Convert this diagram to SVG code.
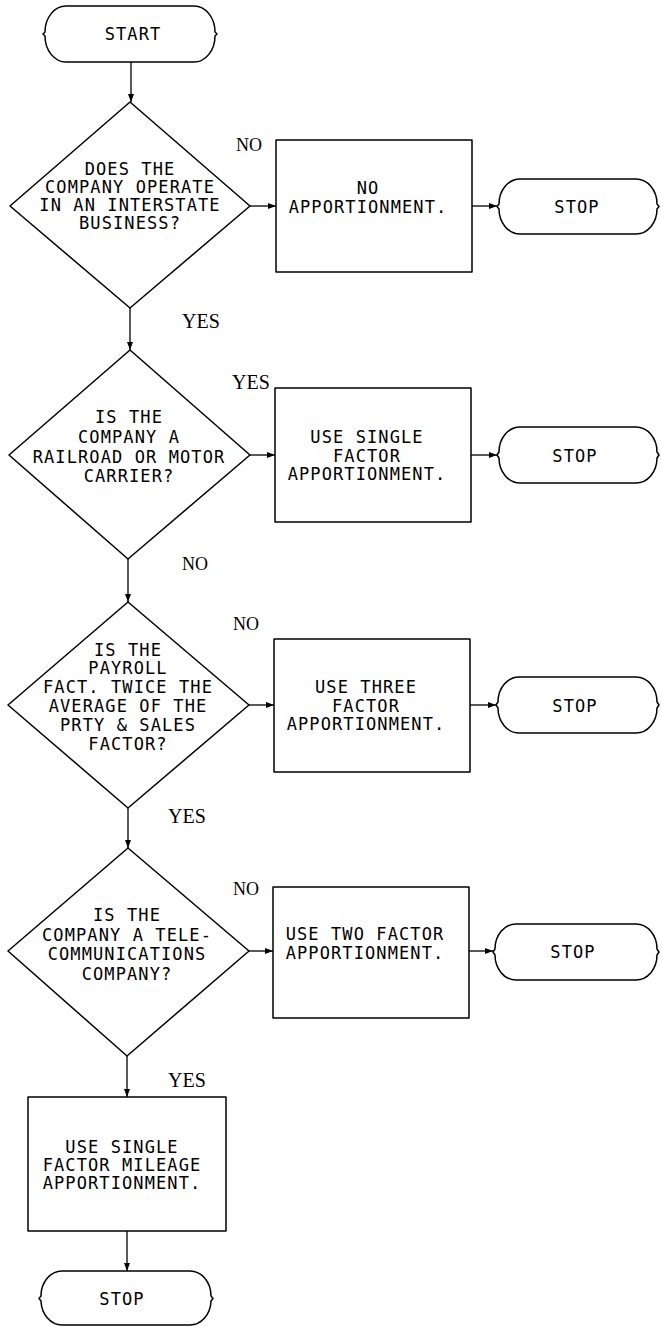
<svg xmlns="http://www.w3.org/2000/svg" width="661" height="1327" viewBox="0 0 661 1327">
<style>
.s{fill:#fff;stroke:#000;stroke-width:1.5;stroke-linejoin:round}
.c{fill:none;stroke:#000;stroke-width:1.3}
.t{font-family:"DejaVu Sans Mono","Liberation Mono",monospace;font-size:17px;letter-spacing:1.1px;text-anchor:middle;fill:#000}
.l{font-family:"Liberation Serif","Times New Roman",serif;font-size:18px;fill:#000}
</style>
<defs>
<marker id="ah" markerUnits="userSpaceOnUse" markerWidth="8" markerHeight="8" viewBox="0 0 8 8" refX="8" refY="4" orient="auto">
<path d="M0,1 L8,4 L0,7 Z" fill="#000"/>
</marker>
</defs>
<rect width="661" height="1327" fill="#fff"/>
<g id="connectors">
<path class="c" marker-end="url(#ah)" d="M131,62 V102"/>
<path class="c" marker-end="url(#ah)" d="M250,206 H276"/>
<path class="c" marker-end="url(#ah)" d="M472,206 H497"/>
<path class="c" marker-end="url(#ah)" d="M130,308 V350"/>
<path class="c" marker-end="url(#ah)" d="M250,455 H275"/>
<path class="c" marker-end="url(#ah)" d="M471,455 H497"/>
<path class="c" marker-end="url(#ah)" d="M128,559 V602"/>
<path class="c" marker-end="url(#ah)" d="M249,705 H274"/>
<path class="c" marker-end="url(#ah)" d="M470,705 H496"/>
<path class="c" marker-end="url(#ah)" d="M128,808 V848"/>
<path class="c" marker-end="url(#ah)" d="M249,951 H273"/>
<path class="c" marker-end="url(#ah)" d="M469,951 H493"/>
<path class="c" marker-end="url(#ah)" d="M127,1056 V1097"/>
<path class="c" marker-end="url(#ah)" d="M127,1231 V1271"/>
</g>
<g id="start">
<path class="s" d="M66,6 H194 A21,26 0 0 1 215,32 L217,34 L215,36 A21,26 0 0 1 194,62 H66 A21,26 0 0 1 45,36 L43,34 L45,32 A21,26 0 0 1 66,6 Z"/>
<text class="t" x="133" y="40">START</text>
</g>
<g id="d1">
<polygon class="s" points="130,102 250,206 130,308 10,206"/>
<text class="t" x="130" y="175">DOES THE</text>
<text class="t" x="130" y="193">COMPANY OPERATE</text>
<text class="t" x="130" y="211">IN AN INTERSTATE</text>
<text class="t" x="130" y="229">BUSINESS?</text>
</g>
<g id="b1">
<rect class="s" x="276" y="140" width="196" height="132"/>
<text class="t" x="368" y="194">NO</text>
<text class="t" x="368" y="213">APPORTIONMENT.</text>
</g>
<g id="t1">
<path class="s" d="M520,179 H636 A21,25 0 0 1 657,204 L659,206.5 L657,209 A21,25 0 0 1 636,234 H520 A21,25 0 0 1 499,209 L497,206.5 L499,204 A21,25 0 0 1 520,179 Z"/>
<text class="t" x="577" y="213">STOP</text>
</g>
<g id="d2">
<polygon class="s" points="130,350 250,455 128,559 9,455"/>
<text class="t" x="129" y="423">IS THE</text>
<text class="t" x="129" y="443">COMPANY A</text>
<text class="t" x="129" y="463">RAILROAD OR MOTOR</text>
<text class="t" x="129" y="482">CARRIER?</text>
</g>
<g id="b2">
<rect class="s" x="275" y="388" width="196" height="134"/>
<text class="t" x="367" y="443">USE SINGLE</text>
<text class="t" x="367" y="462">FACTOR</text>
<text class="t" x="367" y="480">APPORTIONMENT.</text>
</g>
<g id="t2">
<path class="s" d="M520,427 H636 A21,25 0 0 1 657,452 L659,455 L657,458 A21,25 0 0 1 636,483 H520 A21,25 0 0 1 499,458 L497,455 L499,452 A21,25 0 0 1 520,427 Z"/>
<text class="t" x="575" y="462">STOP</text>
</g>
<g id="d3">
<polygon class="s" points="128,602 249,705 128,808 8,705"/>
<text class="t" x="128" y="656">IS THE</text>
<text class="t" x="128" y="674">PAYROLL</text>
<text class="t" x="128" y="693">FACT. TWICE THE</text>
<text class="t" x="128" y="712">AVERAGE OF THE</text>
<text class="t" x="128" y="731">PRTY &amp; SALES</text>
<text class="t" x="128" y="750">FACTOR?</text>
</g>
<g id="b3">
<rect class="s" x="274" y="639" width="196" height="133"/>
<text class="t" x="366" y="693">USE THREE</text>
<text class="t" x="366" y="712">FACTOR</text>
<text class="t" x="366" y="730">APPORTIONMENT.</text>
</g>
<g id="t3">
<path class="s" d="M519,677 H636 A21,25 0 0 1 657,702 L659,705 L657,708 A21,25 0 0 1 636,733 H519 A21,25 0 0 1 498,708 L496,705 L498,702 A21,25 0 0 1 519,677 Z"/>
<text class="t" x="575" y="712">STOP</text>
</g>
<g id="d4">
<polygon class="s" points="128,848 249,951 127,1056 8,951"/>
<text class="t" x="127" y="921">IS THE</text>
<text class="t" x="127" y="941">COMPANY A TELE-</text>
<text class="t" x="127" y="960">COMMUNICATIONS</text>
<text class="t" x="127" y="980">COMPANY?</text>
</g>
<g id="b4">
<rect class="s" x="273" y="887" width="196" height="131"/>
<text class="t" x="365" y="940">USE TWO FACTOR</text>
<text class="t" x="365" y="959">APPORTIONMENT.</text>
</g>
<g id="t4">
<path class="s" d="M516,924 H636 A21,25 0 0 1 657,949 L659,952 L657,955 A21,25 0 0 1 636,980 H516 A21,25 0 0 1 495,955 L493,952 L495,949 A21,25 0 0 1 516,924 Z"/>
<text class="t" x="573" y="958">STOP</text>
</g>
<g id="b5">
<rect class="s" x="28" y="1097" width="198" height="134"/>
<text class="t" x="122" y="1153">USE SINGLE</text>
<text class="t" x="122" y="1171">FACTOR MILEAGE</text>
<text class="t" x="122" y="1189">APPORTIONMENT.</text>
</g>
<g id="t5">
<path class="s" d="M62,1271 H190 A21,25 0 0 1 211,1296 L213,1298.5 L211,1301 A21,25 0 0 1 190,1325 H62 A21,25 0 0 1 41,1301 L39,1298.5 L41,1296 A21,25 0 0 1 62,1271 Z"/>
<text class="t" x="122" y="1305">STOP</text>
</g>
<g id="labels">
<text class="l" x="236" y="151">NO</text>
<text class="l" x="182" y="328" style="font-size:20px">YES</text>
<text class="l" x="232" y="389" style="font-size:20px">YES</text>
<text class="l" x="182" y="570">NO</text>
<text class="l" x="233" y="630">NO</text>
<text class="l" x="168" y="823" style="font-size:20px">YES</text>
<text class="l" x="233" y="895">NO</text>
<text class="l" x="168" y="1087" style="font-size:20px">YES</text>
</g>
</svg>
